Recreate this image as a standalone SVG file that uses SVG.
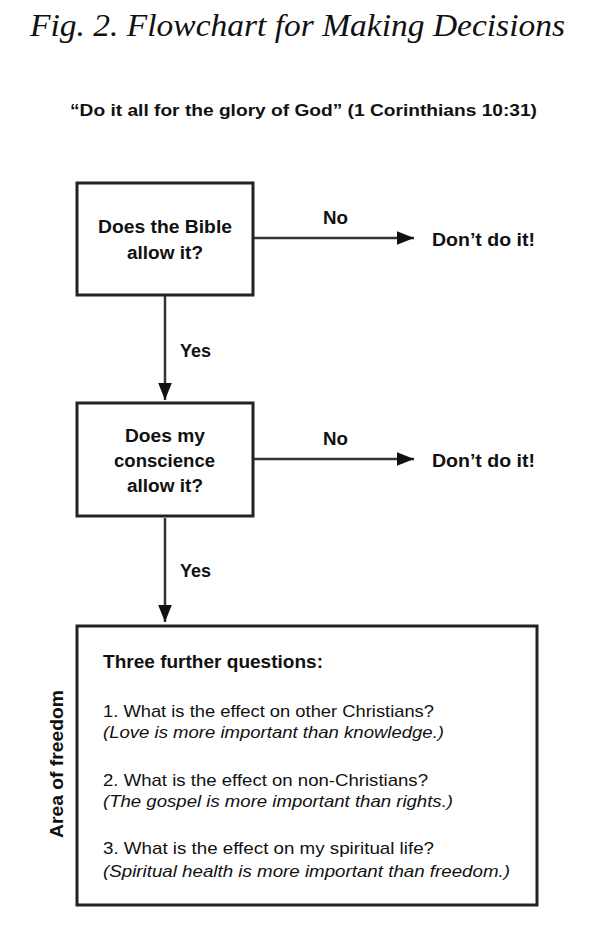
<svg xmlns="http://www.w3.org/2000/svg" width="596" height="931" viewBox="0 0 596 931">
<style>
.t{font-family:"Liberation Sans",Arial,sans-serif;fill:#111;}
.b{font-weight:bold;font-size:17.5px;}
.r{font-size:17px;}
.i{font-size:17px;font-style:italic;}
.box{fill:#fff;stroke:#222;stroke-width:3;}
.ln{stroke:#333;stroke-width:2.5;fill:none;}
</style>
<defs>
<marker id="ah2" viewBox="0 0 10 10" refX="10" refY="5" markerWidth="7" markerHeight="7" orient="auto">
<path d="M0,1 L10,5 L0,9 z" fill="#111"/>
</marker>
</defs>
<rect width="596" height="931" fill="#fff"/>
<text x="30" y="36" textLength="535" lengthAdjust="spacingAndGlyphs" style="font-family:'Liberation Serif','Times New Roman',serif;font-style:italic;font-size:32px;fill:#111">Fig. 2. Flowchart for Making Decisions</text>
<text x="70" y="116" textLength="467" lengthAdjust="spacingAndGlyphs" class="t b" style="font-size:17px">“Do it all for the glory of God” (1 Corinthians 10:31)</text>

<g id="connectors">
<line class="ln" x1="254" y1="238" x2="414" y2="238" marker-end="url(#ah2)"/>
<line class="ln" x1="165" y1="296" x2="165" y2="400" marker-end="url(#ah2)"/>
<line class="ln" x1="254" y1="459" x2="414" y2="459" marker-end="url(#ah2)"/>
<line class="ln" x1="165" y1="518" x2="165" y2="622" marker-end="url(#ah2)"/>
<text x="323" y="224" textLength="25" lengthAdjust="spacingAndGlyphs" class="t b">No</text>
<text x="323" y="445" textLength="25" lengthAdjust="spacingAndGlyphs" class="t b">No</text>
<text x="180" y="357" textLength="31" lengthAdjust="spacingAndGlyphs" class="t b">Yes</text>
<text x="180" y="577" textLength="31" lengthAdjust="spacingAndGlyphs" class="t b">Yes</text>
</g>

<g id="q1">
<rect class="box" x="77" y="183" width="176" height="112"/>
<text x="98" y="233" textLength="134" lengthAdjust="spacingAndGlyphs" class="t b">Does the Bible</text>
<text x="127" y="259" textLength="76" lengthAdjust="spacingAndGlyphs" class="t b">allow it?</text>
</g>
<g id="no1">
<text x="432" y="246" textLength="103" lengthAdjust="spacingAndGlyphs" class="t b">Don’t do it!</text>
</g>
<g id="q2">
<rect class="box" x="77" y="403" width="176" height="113"/>
<text x="125" y="442" textLength="80" lengthAdjust="spacingAndGlyphs" class="t b">Does my</text>
<text x="114" y="467" textLength="101" lengthAdjust="spacingAndGlyphs" class="t b">conscience</text>
<text x="127" y="492" textLength="76" lengthAdjust="spacingAndGlyphs" class="t b">allow it?</text>
</g>
<g id="no2">
<text x="432" y="467" textLength="103" lengthAdjust="spacingAndGlyphs" class="t b">Don’t do it!</text>
</g>
<g id="freedom">
<rect class="box" x="77" y="626" width="460" height="279"/>
<text x="103" y="668" textLength="220" lengthAdjust="spacingAndGlyphs" class="t b">Three further questions:</text>
<text x="103" y="717" textLength="331" lengthAdjust="spacingAndGlyphs" class="t r">1. What is the effect on other Christians?</text>
<text x="103" y="738" textLength="341" lengthAdjust="spacingAndGlyphs" class="t i">(Love is more important than knowledge.)</text>
<text x="103" y="786" textLength="325" lengthAdjust="spacingAndGlyphs" class="t r">2. What is the effect on non-Christians?</text>
<text x="103" y="807" textLength="350" lengthAdjust="spacingAndGlyphs" class="t i">(The gospel is more important than rights.)</text>
<text x="103" y="854" textLength="331" lengthAdjust="spacingAndGlyphs" class="t r">3. What is the effect on my spiritual life?</text>
<text x="103" y="877" textLength="407" lengthAdjust="spacingAndGlyphs" class="t i">(Spiritual health is more important than freedom.)</text>
<text transform="translate(63,764) rotate(-90)" x="-74" textLength="148" lengthAdjust="spacingAndGlyphs" class="t b">Area of freedom</text>
</g>
</svg>
